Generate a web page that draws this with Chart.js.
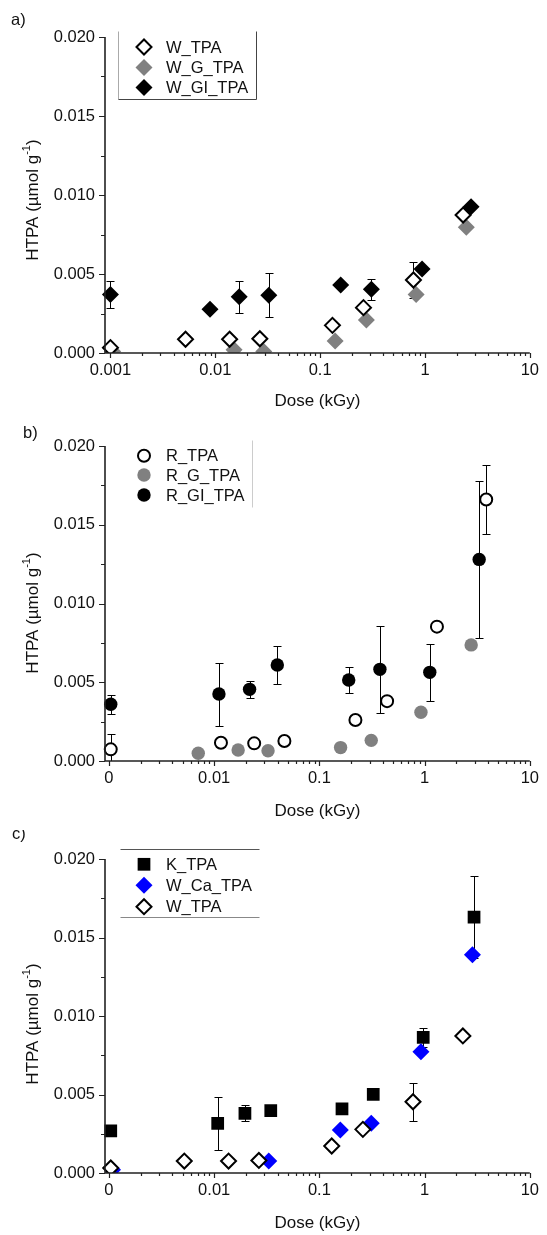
<!DOCTYPE html>
<html><head><meta charset="utf-8">
<script src="https://cdn.jsdelivr.net/npm/chart.js@4.4.1/dist/chart.umd.min.js"></script>
<style>
html,body{margin:0;padding:0;background:#fff;width:547px;height:1235px;overflow:hidden}
.p{position:absolute;left:0;width:547px;overflow:hidden}
canvas{display:block}
</style></head><body>
<div class="p" style="top:0;height:410px"><canvas id="ca" width="547" height="410" style="width:547px;height:410px"></canvas></div>
<div class="p" style="top:410px;height:420px"><canvas id="cb" width="547" height="420" style="width:547px;height:420px"></canvas></div>
<div class="p" style="top:830px;height:405px"><canvas id="cc" width="547" height="405" style="width:547px;height:405px"></canvas></div>
<script>
// ---------------- tick labels ----------------
const yTickValues = [0, 0.0025, 0.005, 0.0075, 0.01, 0.0125, 0.015, 0.0175, 0.02];
const yTickLabels = ['0.000', '', '0.005', '', '0.010', '', '0.015', '', '0.020'];
const xMajorTicks = [0.001, 0.01, 0.1, 1, 10];
const xMajorLabelsA = ['0.001', '0.01', '0.1', '1', '10'];
const xMajorLabelsBC = ['0', '0.01', '0.1', '1', '10'];
const yTitle = ['HTPA (µmol g', '-1', ')'];
const xTitle = 'Dose (kGy)';

// ---------------- panel a data ----------------
const aW_TPA_x = [0.001, 0.0052, 0.0137, 0.0266, 0.131, 0.259, 0.776, 2.31];
const aW_TPA_y = [0.00034, 0.00087, 0.00087, 0.0009, 0.00175, 0.00287, 0.00462, 0.00873];
const aW_TPA_err = [0, 0, 0, 0, 0, 0, 0.00116, 0];
const aW_G_TPA_x = [0.00105, 0.0151, 0.029, 0.139, 0.276, 0.823, 2.48];
const aW_G_TPA_y = [0.0001, 0.0002, 0.0001, 0.00076, 0.00209, 0.00371, 0.00796];
const aW_GI_TPA_x = [0.001, 0.0089, 0.0169, 0.0324, 0.157, 0.308, 0.938, 2.75];
const aW_GI_TPA_y = [0.0037, 0.00277, 0.00356, 0.00365, 0.0043, 0.00403, 0.00532, 0.00926];
const aW_GI_TPA_err = [0.00083, 0, 0.001, 0.0014, 0, 0.00065, 0, 0];

// ---------------- panel b data ----------------
const bR_TPA_x = [0.00104, 0.0116, 0.024, 0.0465, 0.22, 0.44, 1.31, 3.85];
const bR_TPA_y = [0.00074, 0.00116, 0.00112, 0.00127, 0.0026, 0.0038, 0.00853, 0.0166];
const bR_TPA_err = [0.00095, 0, 0, 0, 0, 0, 0, 0.0022];
const bR_G_TPA_x = [0.00706, 0.0169, 0.0325, 0.159, 0.311, 0.923, 2.77];
const bR_G_TPA_y = [0.00049, 0.0007, 0.00065, 0.00085, 0.00131, 0.0031, 0.00737];
const bR_GI_TPA_x = [0.00104, 0.0111, 0.0217, 0.0398, 0.19, 0.376, 1.12, 3.3];
const bR_GI_TPA_y = [0.0036, 0.00425, 0.00455, 0.0061, 0.00514, 0.00582, 0.00563, 0.0128];
const bR_GI_TPA_err = [0.0006, 0.002, 0.00055, 0.00123, 0.0008, 0.00276, 0.0018, 0.005];

// ---------------- panel c data ----------------
const cK_TPA_x = [0.00104, 0.0108, 0.0196, 0.0345, 0.164, 0.325, 0.97, 2.95];
const cK_TPA_y = [0.00269, 0.00316, 0.0038, 0.00397, 0.00408, 0.00501, 0.00864, 0.0163];
const cK_TPA_err = [0, 0.0017, 0.0005, 0, 0, 0, 0.0006, 0.0026];
const cW_Ca_TPA_x = [0.00108, 0.033, 0.158, 0.311, 0.923, 2.85];
const cW_Ca_TPA_y = [0.0002, 0.00076, 0.00274, 0.00317, 0.00773, 0.0139];
const cW_TPA_x = [0.00104, 0.0052, 0.0137, 0.0266, 0.131, 0.259, 0.776, 2.31];
const cW_TPA_y = [0.00032, 0.00076, 0.00076, 0.0008, 0.00172, 0.00278, 0.00454, 0.00873];
const cW_TPA_err = [0, 0, 0, 0, 0, 0, 0.0012, 0];

// ---------------- helpers ----------------
const FONT = '"Liberation Sans", Arial, Helvetica, sans-serif';
const FS = 16.5;
const TXT = '#111';
const xMinorTicks = [];
[0.001, 0.01, 0.1, 1].forEach(d => { for (let m = 2; m <= 9; m++) xMinorTicks.push(+(m * d).toPrecision(3)); });

function pts(xs, ys) { return xs.map((x, i) => ({x: x, y: ys[i]})); }

function drawMarker(ctx, m, x, y) {
  ctx.save();
  ctx.beginPath();
  const r = m.r;
  if (m.style === 'rectRot') { ctx.moveTo(x - r, y); ctx.lineTo(x, y - r); ctx.lineTo(x + r, y); ctx.lineTo(x, y + r); ctx.closePath(); }
  else if (m.style === 'rect') { const h = r * Math.SQRT1_2; ctx.rect(x - h, y - h, 2 * h, 2 * h); }
  else { ctx.arc(x, y, r, 0, Math.PI * 2); }
  ctx.fillStyle = m.fill; ctx.fill();
  if (m.bw > 0) { ctx.lineWidth = m.bw; ctx.strokeStyle = m.stroke; ctx.stroke(); }
  ctx.restore();
}

function ds(label, data, m, err, order) {
  return {
    label: label, data: data, err: err || null, order: order,
    pointStyle: m.style, pointRadius: m.r, pointHoverRadius: m.r,
    pointBackgroundColor: m.fill, pointBorderColor: m.stroke || m.fill, pointBorderWidth: m.bw,
    showLine: false, clip: {left: 12, top: 12, right: 12, bottom: 0}
  };
}

const errPlugin = {
  id: 'errbars',
  beforeDatasetsDraw(chart) {
    const ctx = chart.ctx, xs = chart.scales.x, ys = chart.scales.y, ca = chart.chartArea;
    ctx.save();
    ctx.beginPath(); ctx.rect(ca.left - 20, ca.top - 20, ca.right - ca.left + 40, ca.bottom - ca.top + 20); ctx.clip();
    ctx.strokeStyle = '#000'; ctx.lineWidth = 1;
    chart.data.datasets.forEach(d => {
      if (!d.err) return;
      d.data.forEach((p, i) => {
        const e = d.err[i]; if (!e) return;
        const x = Math.round(xs.getPixelForValue(p.x)) + 0.5;
        const y1 = Math.round(ys.getPixelForValue(p.y + e)) + 0.5;
        const y2 = Math.round(ys.getPixelForValue(p.y - e)) + 0.5;
        ctx.beginPath();
        ctx.moveTo(x, y1); ctx.lineTo(x, y2);
        ctx.moveTo(x - 4, y1); ctx.lineTo(x + 4, y1);
        ctx.moveTo(x - 4, y2); ctx.lineTo(x + 4, y2);
        ctx.stroke();
      });
    });
    ctx.restore();
  }
};

const decoPlugin = {
  id: 'deco',
  afterDatasetsDraw(chart) {
    const ctx = chart.ctx, ca = chart.chartArea, xs = chart.scales.x, ys = chart.scales.y;
    ctx.save();
    ctx.strokeStyle = '#222';
    ctx.lineWidth = 1.2;
    ctx.beginPath();
    ys.ticks.forEach(t => {
      const y = Math.round(ys.getPixelForValue(t.value)) + 0.5;
      const len = t.label ? 6 : 4;
      ctx.moveTo(ca.left, y); ctx.lineTo(ca.left - len, y);
    });
    xs.ticks.forEach(t => {
      const x = Math.round(xs.getPixelForValue(t.value)) + 0.5;
      const len = t.label ? 5 : 3;
      ctx.moveTo(x, ca.bottom); ctx.lineTo(x, ca.bottom + len);
    });
    ctx.stroke();
    ctx.lineWidth = 1.6;
    ctx.beginPath();
    ctx.moveTo(ca.left, ca.top); ctx.lineTo(ca.left, ca.bottom); ctx.lineTo(ca.right, ca.bottom);
    ctx.stroke();
    ctx.restore();
  },
  afterDraw(chart, args, o) {
    const ctx = chart.ctx, ca = chart.chartArea;
    ctx.save();
    ctx.fillStyle = TXT;
    ctx.textBaseline = 'middle';
    // panel label
    ctx.font = FS + 'px ' + FONT; ctx.textAlign = 'left';
    ctx.fillText(o.panelLabel, o.panelPos[0], o.panelPos[1]);
    // x title
    ctx.font = '17px ' + FONT;
    ctx.textAlign = 'center';
    ctx.fillText(xTitle, (ca.left + ca.right) / 2, o.xTitleY);
    // y title with superscript
    ctx.save();
    ctx.translate(33, o.yTitleY);
    ctx.rotate(-Math.PI / 2);
    ctx.textAlign = 'left';
    ctx.font = '17px ' + FONT; const w1 = ctx.measureText(yTitle[0]).width;
    ctx.font = '11px ' + FONT; const w2 = ctx.measureText(yTitle[1]).width;
    ctx.font = '17px ' + FONT; const w3 = ctx.measureText(yTitle[2]).width;
    const s = -(w1 + w2 + w3) / 2;
    ctx.font = '17px ' + FONT; ctx.fillText(yTitle[0], s, 0);
    ctx.font = '11px ' + FONT; ctx.fillText(yTitle[1], s + w1, -6);
    ctx.font = '17px ' + FONT; ctx.fillText(yTitle[2], s + w1 + w2, 0);
    ctx.restore();
    // legend frame lines
    ctx.lineWidth = 1;
    o.legendLines.forEach(l => {
      ctx.strokeStyle = l[4];
      ctx.beginPath(); ctx.moveTo(l[0] + 0.5, l[1] + 0.5); ctx.lineTo(l[2] + 0.5, l[3] + 0.5); ctx.stroke();
    });
    // legend items
    ctx.font = FS + 'px ' + FONT; ctx.textAlign = 'left'; ctx.fillStyle = TXT;
    o.legendItems.forEach((it, i) => {
      const y = o.legendRows[i];
      drawMarker(ctx, it.m, o.legendMarkerX, y);
      ctx.fillStyle = TXT;
      ctx.fillText(it.text, o.legendTextX, y + 1);
    });
    ctx.restore();
  }
};

function makeChart(p) {
  const H = p.H;
  const findLabel = (v) => {
    const i = xMajorTicks.findIndex(m => Math.abs(Math.log10(m) - Math.log10(v)) < 1e-6);
    return i >= 0 ? p.xLabels[i] : '';
  };
  return new Chart(document.getElementById(p.id), {
    type: 'scatter',
    data: {datasets: p.datasets},
    options: {
      responsive: false, animation: false, events: [], devicePixelRatio: 1,
      layout: {padding: {top: p.top, right: 14, left: 0, bottom: 0}},
      plugins: {
        legend: {display: false}, tooltip: {enabled: false}, title: {display: false},
        deco: p.deco
      },
      scales: {
        x: {
          type: 'logarithmic', position: 'bottom', min: p.xMin, max: 10,
          afterBuildTicks: s => { s.ticks = xMajorTicks.concat(xMinorTicks).sort((a, b) => a - b).map(v => ({value: v})); },
          afterFit: s => { s.height = H - p.bottom; },
          grid: {display: false, drawTicks: false}, border: {display: false},
          ticks: {autoSkip: false, maxRotation: 0, minRotation: 0, padding: 8, color: TXT,
                  font: {family: FONT, size: FS}, callback: (v) => findLabel(v)}
        },
        y: {
          type: 'linear', position: 'left', min: 0, max: 0.02,
          afterBuildTicks: s => { s.ticks = yTickValues.map(v => ({value: v})); },
          afterFit: s => { s.width = 105; },
          grid: {display: false, drawTicks: false}, border: {display: false},
          ticks: {autoSkip: false, padding: 10, color: TXT, font: {family: FONT, size: FS},
                  callback: (v, i) => yTickLabels[i]}
        }
      }
    },
    plugins: [errPlugin, decoPlugin]
  });
}

// marker styles
const mOpenDia = {style: 'rectRot', r: 7.5, fill: '#ffffff', stroke: '#000000', bw: 2};
const mGrayDia = {style: 'rectRot', r: 8.5, fill: '#808080', bw: 0};
const mBlackDia = {style: 'rectRot', r: 8.5, fill: '#000000', bw: 0};
const mBlueDia = {style: 'rectRot', r: 8.5, fill: '#0000ff', bw: 0};
const mOpenCirc = {style: 'circle', r: 6, fill: '#ffffff', stroke: '#000000', bw: 2};
const mGrayCirc = {style: 'circle', r: 6.7, fill: '#808080', bw: 0};
const mBlackCirc = {style: 'circle', r: 6.7, fill: '#000000', bw: 0};
const mBlackSq = {style: 'rect', r: 9, fill: '#000000', bw: 0};

makeChart({
  id: 'ca', H: 410, top: 37, bottom: 353, xMin: 0.000887, xLabels: xMajorLabelsA,
  datasets: [
    ds('W_TPA', pts(aW_TPA_x, aW_TPA_y), mOpenDia, aW_TPA_err, 1),
    ds('W_G_TPA', pts(aW_G_TPA_x, aW_G_TPA_y), mGrayDia, null, 2),
    ds('W_GI_TPA', pts(aW_GI_TPA_x, aW_GI_TPA_y), mBlackDia, aW_GI_TPA_err, 3)
  ],
  deco: {
    panelLabel: 'a)', panelPos: [11, 20], xTitleY: 401, yTitleY: 200,
    legendMarkerX: 144, legendTextX: 166, legendRows: [47, 67.5, 87.5],
    legendItems: [{text: 'W_TPA', m: mOpenDia}, {text: 'W_G_TPA', m: mGrayDia}, {text: 'W_GI_TPA', m: mBlackDia}],
    legendLines: [[118, 31, 118, 99, '#aaaaaa'], [256, 31, 256, 99, '#444444'], [118, 99, 256, 99, '#444444']]
  }
});

makeChart({
  id: 'cb', H: 420, top: 36, bottom: 351, xMin: 0.000917, xLabels: xMajorLabelsBC,
  datasets: [
    ds('R_TPA', pts(bR_TPA_x, bR_TPA_y), mOpenCirc, bR_TPA_err, 1),
    ds('R_G_TPA', pts(bR_G_TPA_x, bR_G_TPA_y), mGrayCirc, null, 2),
    ds('R_GI_TPA', pts(bR_GI_TPA_x, bR_GI_TPA_y), mBlackCirc, bR_GI_TPA_err, 3)
  ],
  deco: {
    panelLabel: 'b)', panelPos: [23, 23], xTitleY: 401, yTitleY: 203,
    legendMarkerX: 144, legendTextX: 166, legendRows: [45.7, 65, 85],
    legendItems: [{text: 'R_TPA', m: mOpenCirc}, {text: 'R_G_TPA', m: mGrayCirc}, {text: 'R_GI_TPA', m: mBlackCirc}],
    legendLines: [[252, 30, 252, 97, '#cccccc']]
  }
});

makeChart({
  id: 'cc', H: 405, top: 29, bottom: 343, xMin: 0.000917, xLabels: xMajorLabelsBC,
  datasets: [
    ds('K_TPA', pts(cK_TPA_x, cK_TPA_y), mBlackSq, cK_TPA_err, 3),
    ds('W_Ca_TPA', pts(cW_Ca_TPA_x, cW_Ca_TPA_y), mBlueDia, null, 2),
    ds('W_TPA', pts(cW_TPA_x, cW_TPA_y), mOpenDia, cW_TPA_err, 1)
  ],
  deco: {
    panelLabel: 'c)', panelPos: [12, 4], xTitleY: 393, yTitleY: 194,
    legendMarkerX: 144, legendTextX: 166, legendRows: [34.3, 55.3, 76.7],
    legendItems: [{text: 'K_TPA', m: mBlackSq}, {text: 'W_Ca_TPA', m: mBlueDia}, {text: 'W_TPA', m: mOpenDia}],
    legendLines: [[120, 19, 259, 19, '#555555'], [120, 87, 259, 87, '#888888']]
  }
});
</script>
</body></html>
